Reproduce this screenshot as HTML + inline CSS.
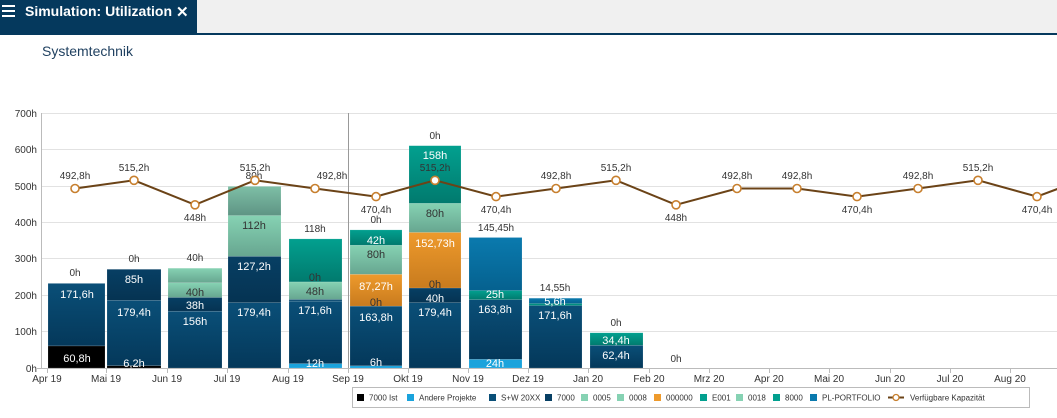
<!DOCTYPE html>
<html><head><meta charset="utf-8"><style>
body{margin:0;width:1057px;height:413px;overflow:hidden;background:#fff;font-family:"Liberation Sans",sans-serif}
</style></head><body>
<svg width="1057" height="413" xmlns="http://www.w3.org/2000/svg" font-family="Liberation Sans, sans-serif">
<defs>
<linearGradient id="nv" x1="0" y1="0" x2="0" y2="1"><stop offset="0" stop-color="#0a4f78"/><stop offset="1" stop-color="#04385a"/></linearGradient>
<linearGradient id="nv2" x1="0" y1="0" x2="0" y2="1"><stop offset="0" stop-color="#073f64"/><stop offset="1" stop-color="#053352"/></linearGradient>
<linearGradient id="tl" x1="0" y1="0" x2="0" y2="1"><stop offset="0" stop-color="#02a08f"/><stop offset="1" stop-color="#017a6e"/></linearGradient>
<linearGradient id="lg" x1="0" y1="0" x2="0" y2="1"><stop offset="0" stop-color="#86d2b3"/><stop offset="1" stop-color="#67a690"/></linearGradient>
<linearGradient id="lg2" x1="0" y1="0" x2="0" y2="1"><stop offset="0" stop-color="#7ebfa6"/><stop offset="1" stop-color="#5e9484"/></linearGradient>
<linearGradient id="or" x1="0" y1="0" x2="0" y2="1"><stop offset="0" stop-color="#ee9a2c"/><stop offset="1" stop-color="#c87b1e"/></linearGradient>
<linearGradient id="pl" x1="0" y1="0" x2="0" y2="1"><stop offset="0" stop-color="#0a7aae"/><stop offset="1" stop-color="#05618f"/></linearGradient>
</defs>
<!-- header -->
<rect x="0" y="0" width="1057" height="34" fill="#f0f0f0"/>
<rect x="0" y="0" width="197" height="34" fill="#05395d"/>
<rect x="0" y="33" width="1057" height="2" fill="#05395d"/>
<rect x="2" y="5" width="13" height="2" fill="#fff"/><rect x="2" y="10" width="13" height="2" fill="#fff"/><rect x="2" y="15" width="13" height="2" fill="#fff"/>
<text x="25" y="16" fill="#fff" font-size="14" font-weight="bold">Simulation: Utilization</text>
<text x="176" y="17" fill="#fff" font-size="15" font-weight="bold">✕</text>
<text x="42" y="56" fill="#1e3f5f" font-size="14">Systemtechnik</text>
<!-- grid -->
<g stroke="#e2e2e2" stroke-width="1">
<line x1="42" y1="113.5" x2="1057" y2="113.5"/><line x1="42" y1="149.5" x2="1057" y2="149.5"/><line x1="42" y1="186.5" x2="1057" y2="186.5"/><line x1="42" y1="222.5" x2="1057" y2="222.5"/><line x1="42" y1="258.5" x2="1057" y2="258.5"/><line x1="42" y1="295.5" x2="1057" y2="295.5"/><line x1="42" y1="331.5" x2="1057" y2="331.5"/>
</g>
<line x1="41.5" y1="113" x2="41.5" y2="369" stroke="#bbb"/>
<line x1="42" y1="368.5" x2="1057" y2="368.5" stroke="#bbb"/>
<g font-size="10" fill="#333" text-anchor="end">
<text x="37" y="117">700h</text><text x="37" y="153">600h</text><text x="37" y="190">500h</text><text x="37" y="226">400h</text><text x="37" y="262">300h</text><text x="37" y="299">200h</text><text x="37" y="335">100h</text><text x="37" y="372">0h</text>
</g>
<g stroke="#bbb"><line x1="37" y1="368.5" x2="42" y2="368.5"/></g>
<g font-size="10" fill="#333" text-anchor="middle">
<text x="47" y="382">Apr 19</text><text x="106" y="382">Mai 19</text><text x="167" y="382">Jun 19</text><text x="227" y="382">Jul 19</text><text x="288" y="382">Aug 19</text><text x="348" y="382">Sep 19</text><text x="408" y="382">Okt 19</text><text x="468" y="382">Nov 19</text><text x="528" y="382">Dez 19</text><text x="588" y="382">Jan 20</text><text x="649" y="382">Feb 20</text><text x="709" y="382">Mrz 20</text><text x="769" y="382">Apr 20</text><text x="829" y="382">Mai 20</text><text x="890" y="382">Jun 20</text><text x="950" y="382">Jul 20</text><text x="1010" y="382">Aug 20</text>
</g>
<g stroke="#bbb"><line x1="47.5" y1="368" x2="47.5" y2="373"/><line x1="106.5" y1="368" x2="106.5" y2="373"/><line x1="167.5" y1="368" x2="167.5" y2="373"/><line x1="227.5" y1="368" x2="227.5" y2="373"/><line x1="288.5" y1="368" x2="288.5" y2="373"/><line x1="348.5" y1="368" x2="348.5" y2="373"/><line x1="408.5" y1="368" x2="408.5" y2="373"/><line x1="468.5" y1="368" x2="468.5" y2="373"/><line x1="528.5" y1="368" x2="528.5" y2="373"/><line x1="588.5" y1="368" x2="588.5" y2="373"/><line x1="649.5" y1="368" x2="649.5" y2="373"/><line x1="709.5" y1="368" x2="709.5" y2="373"/><line x1="769.5" y1="368" x2="769.5" y2="373"/><line x1="829.5" y1="368" x2="829.5" y2="373"/><line x1="890.5" y1="368" x2="890.5" y2="373"/><line x1="950.5" y1="368" x2="950.5" y2="373"/><line x1="1010.5" y1="368" x2="1010.5" y2="373"/></g>
<!-- bars -->
<g stroke="#ffffff" stroke-opacity="0.25" stroke-width="0.5">
<rect x="48" y="345.9" width="57" height="22.1" fill="#000"/>
<rect x="48" y="283.4" width="57" height="62.5" fill="url(#nv)"/>
<rect x="107" y="365.7" width="54" height="2.3" fill="#000"/>
<rect x="107" y="300.3" width="54" height="65.4" fill="url(#nv)"/>
<rect x="107" y="269.3" width="54" height="31" fill="url(#nv2)"/>
<rect x="168" y="311.2" width="54" height="56.8" fill="url(#nv)"/>
<rect x="168" y="297.4" width="54" height="13.8" fill="url(#nv2)"/>
<rect x="168" y="282.8" width="54" height="14.6" fill="url(#lg)"/>
<rect x="168" y="268.2" width="54" height="14.6" fill="url(#lg)"/>
<rect x="228" y="302.6" width="53" height="65.4" fill="url(#nv)"/>
<rect x="228" y="256.3" width="53" height="46.3" fill="url(#nv2)"/>
<rect x="228" y="215.5" width="53" height="40.8" fill="url(#lg)"/>
<rect x="228" y="186.4" width="53" height="29.1" fill="url(#lg2)"/>
<rect x="289" y="363.6" width="53" height="4.4" fill="#1aa3dc"/>
<rect x="289" y="301.1" width="53" height="62.5" fill="url(#nv)"/>
<rect x="289" y="299.4" width="53" height="1.7" fill="#0a4a72"/>
<rect x="289" y="281.9" width="53" height="17.5" fill="url(#lg)"/>
<rect x="289" y="238.9" width="53" height="43" fill="url(#tl)"/>
<rect x="350" y="365.8" width="52" height="2.2" fill="#1aa3dc"/>
<rect x="350" y="306.1" width="52" height="59.7" fill="url(#nv)"/>
<rect x="350" y="274.3" width="52" height="31.8" fill="url(#or)"/>
<rect x="350" y="245.2" width="52" height="29.1" fill="url(#lg)"/>
<rect x="350" y="229.9" width="52" height="15.3" fill="url(#tl)"/>
<rect x="409" y="302.6" width="52" height="65.4" fill="url(#nv)"/>
<rect x="409" y="288" width="52" height="14.6" fill="url(#nv2)"/>
<rect x="409" y="232.4" width="52" height="55.6" fill="url(#or)"/>
<rect x="409" y="203.3" width="52" height="29.1" fill="url(#lg)"/>
<rect x="409" y="145.7" width="52" height="57.6" fill="url(#tl)"/>
<rect x="469" y="359.3" width="53" height="8.7" fill="#1aa3dc"/>
<rect x="469" y="299.6" width="53" height="59.7" fill="url(#nv)"/>
<rect x="469" y="290.5" width="53" height="9.1" fill="url(#tl)"/>
<rect x="469" y="237.5" width="53" height="53" fill="url(#pl)"/>
<rect x="529" y="305.5" width="53" height="62.5" fill="url(#nv)"/>
<rect x="529" y="303.5" width="53" height="2" fill="#01907f"/>
<rect x="529" y="298.2" width="53" height="5.3" fill="url(#pl)"/>
<rect x="590" y="345.3" width="53" height="22.7" fill="url(#nv)"/>
<rect x="590" y="332.8" width="53" height="12.5" fill="url(#tl)"/>
</g>
<line x1="348.5" y1="113" x2="348.5" y2="368" stroke="#999"/>
<!-- inside labels -->
<g font-size="11" fill="#fff" text-anchor="middle">
<text x="77" y="298">171,6h</text><text x="77" y="362">60,8h</text>
<text x="134" y="283">85h</text><text x="134" y="316">179,4h</text><text x="134" y="367">6,2h</text>
<text x="195" y="309">38h</text><text x="195" y="325">156h</text>
<text x="254" y="270">127,2h</text><text x="254" y="316">179,4h</text>
<text x="315" y="314">171,6h</text><text x="315" y="367">12h</text>
<text x="376" y="244">42h</text><text x="376" y="290">87,27h</text><text x="376" y="321">163,8h</text><text x="376" y="366">6h</text>
<text x="435" y="159">158h</text><text x="435" y="247">152,73h</text><text x="435" y="302">40h</text><text x="435" y="316">179,4h</text>
<text x="495" y="298">25h</text><text x="495" y="313">163,8h</text><text x="495" y="367">24h</text>
<text x="555" y="305">5,6h</text><text x="555" y="319">171,6h</text>
<text x="616" y="344">34,4h</text><text x="616" y="359">62,4h</text>
</g>
<g font-size="11" fill="#333" text-anchor="middle">
<text x="195" y="296">40h</text><text x="254" y="229">112h</text><text x="315" y="295">48h</text><text x="315" y="281">0h</text>
<text x="376" y="258">80h</text><text x="376" y="306">0h</text><text x="435" y="217">80h</text><text x="435" y="288">0h</text>
</g>
<!-- top labels -->
<g font-size="10" fill="#333" text-anchor="middle">
<text x="75" y="276">0h</text><text x="134" y="262">0h</text><text x="195" y="261">40h</text><text x="254" y="179">80h</text><text x="315" y="232">118h</text><text x="376" y="223">0h</text><text x="435" y="139">0h</text><text x="496" y="231">145,45h</text><text x="555" y="291">14,55h</text><text x="616" y="326">0h</text><text x="676" y="362">0h</text>
</g>
<!-- capacity line -->
<polyline fill="none" stroke="#6b4317" stroke-width="2" points="75,188.5 134,180.3 195,204.8 255,180.3 315,188.5 376,196.6 435,180.3 496,196.6 556,188.5 616,180.3 676,204.8 737,188.5 797,188.5 857,196.6 918,188.5 978,180.3 1037,196.6 1060,188"/>
<g fill="#fff" stroke="#c77f2e" stroke-width="1.6">
<circle cx="75" cy="188.5" r="4"/><circle cx="134" cy="180.3" r="4"/><circle cx="195" cy="204.8" r="4"/><circle cx="255" cy="180.3" r="4"/><circle cx="315" cy="188.5" r="4"/><circle cx="376" cy="196.6" r="4"/><circle cx="435" cy="180.3" r="4"/><circle cx="496" cy="196.6" r="4"/><circle cx="556" cy="188.5" r="4"/><circle cx="616" cy="180.3" r="4"/><circle cx="676" cy="204.8" r="4"/><circle cx="737" cy="188.5" r="4"/><circle cx="797" cy="188.5" r="4"/><circle cx="857" cy="196.6" r="4"/><circle cx="918" cy="188.5" r="4"/><circle cx="978" cy="180.3" r="4"/><circle cx="1037" cy="196.6" r="4"/>
</g>
<g font-size="10" fill="#333" text-anchor="middle">
<text x="75" y="179">492,8h</text><text x="134" y="171">515,2h</text><text x="195" y="221">448h</text><text x="255" y="171">515,2h</text><text x="332" y="179">492,8h</text><text x="376" y="213">470,4h</text><text x="435" y="171">515,2h</text><text x="496" y="213">470,4h</text><text x="556" y="179">492,8h</text><text x="616" y="171">515,2h</text><text x="676" y="221">448h</text><text x="737" y="179">492,8h</text><text x="797" y="179">492,8h</text><text x="857" y="213">470,4h</text><text x="918" y="179">492,8h</text><text x="978" y="171">515,2h</text><text x="1037" y="213">470,4h</text>
</g>
<!-- legend -->
<rect x="352.5" y="387.5" width="677" height="20" fill="#fff" stroke="#bbb"/>
<g font-size="8" fill="#333">
<rect x="357" y="394" width="7" height="7" fill="#000"/><text x="369" y="400.5">7000 Ist</text>
<rect x="407" y="394" width="7" height="7" fill="#1aa3dc"/><text x="419" y="400.5">Andere Projekte</text>
<rect x="489" y="394" width="7" height="7" fill="#0a4f78"/><text x="501" y="400.5">S+W 20XX</text>
<rect x="545" y="394" width="7" height="7" fill="#073f64"/><text x="557" y="400.5">7000</text>
<rect x="581" y="394" width="7" height="7" fill="#86d2b3"/><text x="593" y="400.5">0005</text>
<rect x="617" y="394" width="7" height="7" fill="#86d2b3"/><text x="629" y="400.5">0008</text>
<rect x="654" y="394" width="7" height="7" fill="#ee9a2c"/><text x="666" y="400.5">000000</text>
<rect x="700" y="394" width="7" height="7" fill="#02a08f"/><text x="712" y="400.5">E001</text>
<rect x="736" y="394" width="7" height="7" fill="#86d2b3"/><text x="748" y="400.5">0018</text>
<rect x="773" y="394" width="7" height="7" fill="#02a08f"/><text x="785" y="400.5">8000</text>
<rect x="810" y="394" width="7" height="7" fill="#0a7aae"/><text x="822" y="400.5">PL-PORTFOLIO</text>
<line x1="888" y1="397.5" x2="904" y2="397.5" stroke="#6b4317" stroke-width="2"/><circle cx="896" cy="397.5" r="3" fill="#fff" stroke="#c77f2e" stroke-width="1.3"/><text x="910" y="400.5">Verfügbare Kapazität</text>
</g>
</svg>
</body></html>
